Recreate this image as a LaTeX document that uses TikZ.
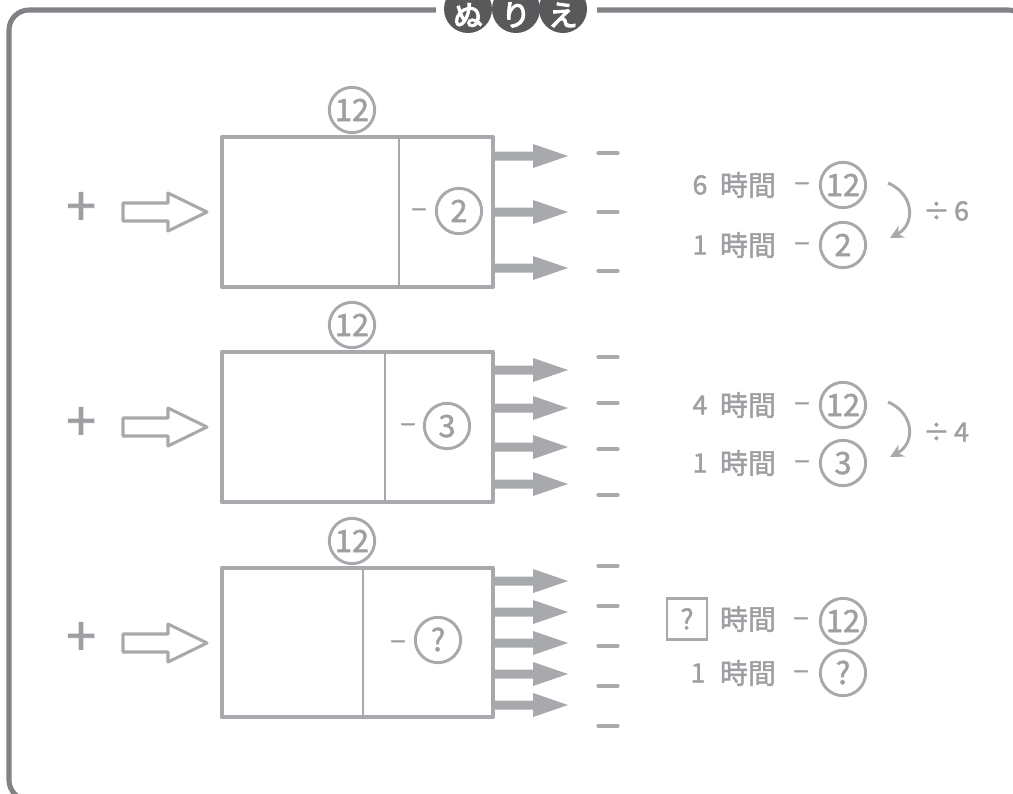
\documentclass[tikz,border=0pt]{standalone}
\usepackage{fontspec}
\newfontfamily\jp[AutoFakeBold=1.6]{Noto Sans CJK JP}
\newfontfamily\jpb[AutoFakeBold=4]{Noto Sans CJK JP}
\usetikzlibrary{arrows.meta}
\definecolor{ln}{HTML}{A7A9AC}
\definecolor{tx}{HTML}{9D9FA2}
\definecolor{fr}{HTML}{808285}
\definecolor{dk}{HTML}{58595B}
\tikzset{
  boxline/.style={draw=ln, line width=3.2pt, line join=round},
  divline/.style={draw=ln, line width=1.6pt},
  num/.style={circle, draw=ln, line width=2.2pt, minimum size=34pt, inner sep=0pt, text height=16.5pt, text depth=0pt, text=tx, font=\jp\bfseries\fontsize{23}{23}\selectfont},
  lbl/.style={text=tx, inner sep=0pt, font=\jp\bfseries\fontsize{20}{20}\selectfont},
  minus/.style={text=tx, inner sep=0pt, anchor=base, font=\jp\bfseries\fontsize{20}{20}\selectfont},
  kanji/.style={text=tx, inner sep=0pt, font=\jp\bfseries\fontsize{21}{21}\selectfont},
  plus/.style={text=tx, inner sep=0pt, font=\jp\bfseries\fontsize{40}{40}\selectfont},
  titlec/.style={circle, fill=dk, minimum size=36pt, inner sep=0pt},
  titlet/.style={text=white, inner sep=0pt, font=\jpb\bfseries\fontsize{22}{22}\selectfont},
  blank/.style={draw=ln, line width=2.4pt, line cap=round},
  qbox/.style={draw=ln, line width=1.8pt, minimum width=30pt, minimum height=31pt, inner sep=0pt, text=tx, font=\jp\bfseries\fontsize{21}{21}\selectfont},
  curv/.style={draw=ln, line width=2.2pt, -{Stealth[length=10pt,width=10pt]}},
  fatarrow/.pic={\fill[ln] (0,-4.5) -- (40,-4.5) -- (40,-12) -- (75,0) -- (40,12) -- (40,4.5) -- (0,4.5) -- cycle;},
  openarrow/.pic={\draw[ln, line width=2.3pt, line join=round, fill=white] (0,-9) -- (45,-9) -- (45,-19) -- (84,0) -- (45,19) -- (45,9) -- (0,9) -- cycle;}
}
\begin{document}
\begin{tikzpicture}[x=0.75pt,y=-0.75pt]
\useasboundingbox (0,0) rectangle (1013,793);
\clip (0,0) rectangle (1013,793);
% frame
\draw[fr, line width=3.8pt, rounded corners=15pt] (436,10) -- (9,10) -- (9,800) -- (1028,800) -- (1028,10) -- (597,10);
% title
\node[titlec] (t1) at (468,9) {};
\node[titlec] (t2) at (516,9) {};
\node[titlec] (t3) at (563,9) {};
\node[titlet] (t1t) at (468,15) {ぬ};
\node[titlet] (t2t) at (516,15) {り};
\node[titlet] (t3t) at (563,15) {え};

% ---------- box 1 ----------
\node[plus] (p1) at (81,209) {+};
\pic at (123,212) {openarrow};
\draw[boxline] (222,137) rectangle (493,287);
\draw[divline] (399,137) -- (399,287);
\node[num] (c1top) at (352,110) {12};
\node[minus] (m1) at (419,219) {−};
\node[num] (c1) at (459,211) {2};
\foreach \y in {156,212,268} \pic at (493,\y) {fatarrow};
\foreach \y in {153,212,271} \draw[blank] (598,\y) -- (618,\y);

% ---------- box 2 ----------
\node[plus] (p2) at (81,424) {+};
\pic at (123,427) {openarrow};
\draw[boxline] (222,352) rectangle (493,502);
\draw[divline] (385,352) -- (385,502);
\node[num] (c2top) at (352,325) {12};
\node[minus] (m2) at (408,434) {−};
\node[num] (c2) at (447,426) {3};
\foreach \y in {370,408,447,484} \pic at (493,\y) {fatarrow};
\foreach \y in {357,403,449,495} \draw[blank] (598,\y) -- (618,\y);

% ---------- box 3 ----------
\node[plus] (p3) at (81,639) {+};
\pic at (123,643) {openarrow};
\draw[boxline] (222,568) rectangle (493,717);
\draw[divline] (363,568) -- (363,717);
\node[num] (c3top) at (352,541) {12};
\node[minus] (m3) at (398,651) {−};
\node[num] (c3) at (438,640) {?};
\foreach \y in {581,612,643,674,705} \pic at (493,\y) {fatarrow};
\foreach \y in {566,606,646,686,726} \draw[blank] (598,\y) -- (618,\y);

% ---------- side 1 ----------
\node[lbl] (a1n) at (700,185) {6};
\node[kanji] (a1k) at (748,185) {時間};
\node[minus] (a1m) at (802,193) {−};
\node[num] (a1c) at (843,185) {12};
\node[lbl] (b1n) at (700,245) {1};
\node[kanji] (b1k) at (748,245) {時間};
\node[minus] (b1m) at (802,253) {−};
\node[num] (b1c) at (843,245) {2};
\coordinate (s1) at (888,183);
\coordinate (e1) at (890,238);
\draw[curv] (s1) .. controls (914,194) and (916,224) .. (e1);
\node[lbl] (d1) at (946,211) {÷\,6};

% ---------- side 2 ----------
\node[lbl] (a2n) at (700,405) {4};
\node[kanji] (a2k) at (748,405) {時間};
\node[minus] (a2m) at (802,413) {−};
\node[num] (a2c) at (843,405) {12};
\node[lbl] (b2n) at (700,463) {1};
\node[kanji] (b2k) at (748,463) {時間};
\node[minus] (b2m) at (802,471) {−};
\node[num] (b2c) at (843,463) {3};
\coordinate (s2) at (888,402);
\coordinate (e2) at (890,457);
\draw[curv] (s2) .. controls (914,413) and (916,443) .. (e2);
\node[lbl] (d2) at (946,432) {÷\,4};

% ---------- side 3 ----------
\node[qbox] (a3q) at (687,619) {?};
\node[kanji] (a3k) at (748,619) {時間};
\node[minus] (a3m) at (801,628) {−};
\node[num] (a3c) at (843,621) {12};
\node[lbl] (b3n) at (698,673) {1};
\node[kanji] (b3k) at (748,673) {時間};
\node[minus] (b3m) at (801,681) {−};
\node[num] (b3c) at (843,673) {?};
\end{tikzpicture}
\end{document}
